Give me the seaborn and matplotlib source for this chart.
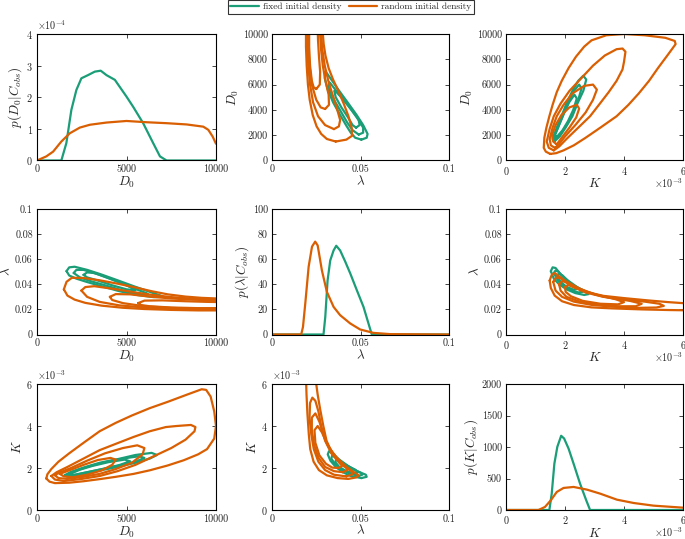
import numpy as np
import pandas as pd
import matplotlib
matplotlib.use("Agg")
import matplotlib.pyplot as plt
import seaborn as sns
from matplotlib.ticker import FuncFormatter, ScalarFormatter
from matplotlib.lines import Line2D

# ---- marginal densities ----
d0_fixed_x = [0, 1360, 1640, 1920, 2200, 2480, 2850, 3230, 3560, 3880, 4350, 5000, 5370, 5930, 6490, 6870, 7240, 10000]
d0_fixed_p = [0, 0, 0.55, 1.6, 2.23, 2.6, 2.7, 2.81, 2.84, 2.7, 2.55, 2.02, 1.7, 1.18, 0.55, 0.13, 0, 0]  # x1e-4
d0_rand_x = [0, 520, 900, 1360, 1830, 2390, 2950, 3880, 5000, 6120, 7240, 8360, 9290, 9570, 9810, 10000]
d0_rand_p = [0, 0.13, 0.28, 0.6, 0.86, 1.04, 1.13, 1.2, 1.25, 1.21, 1.18, 1.14, 1.07, 0.97, 0.76, 0.53]  # x1e-4

lam_fixed_x = [0, 0.0291, 0.0301, 0.0314, 0.0329, 0.0348, 0.0363, 0.0385, 0.0414, 0.0442, 0.0479, 0.0517, 0.0551, 0.0564, 0.1]
lam_fixed_p = [0, 0, 14, 43, 59, 67, 70.7, 67, 58, 48.7, 35.4, 22, 6, 0, 0]
lam_rand_x = [0, 0.0165, 0.0175, 0.0188, 0.0207, 0.0226, 0.0244, 0.0258, 0.0282, 0.031, 0.0348, 0.0385, 0.0442, 0.0498, 0.0573, 0.0667, 0.1]
lam_rand_p = [0, 0, 6, 24.7, 54, 70, 74, 71, 51, 34, 22, 15.4, 8.8, 4, 1.3, 0.3, 0]

k_fixed_x = [0, 1.47, 1.55, 1.64, 1.74, 1.87, 1.97, 2.12, 2.29, 2.51, 2.72, 2.85, 6]  # x1e-3
k_fixed_p = [0, 0, 260, 737, 1003, 1178, 1135, 976, 737, 419, 154, 0, 0]
k_rand_x = [0, 1.1, 1.32, 1.52, 1.72, 1.95, 2.29, 2.74, 3.19, 3.76, 4.33, 5.0, 6.0]  # x1e-3
k_rand_p = [0, 0, 48, 154, 286, 350, 366, 324, 260, 164, 111, 69, 37]

# ---- joint density contours (closed loops) ----
# (D0, lambda)
d0_lam_fixed = [
    [(1650, 0.0505), (1800, 0.0535), (2100, 0.0540), (2800, 0.0515), (3600, 0.0478), (4500, 0.0432), (5400, 0.0385),
     (6200, 0.0345), (6900, 0.0310), (7000, 0.0300), (6500, 0.0298), (5600, 0.0315), (4600, 0.0345), (3600, 0.0385),
     (2800, 0.0418), (2200, 0.0445), (1800, 0.0470), (1650, 0.0505)],
    [(2050, 0.0490), (2200, 0.0515), (2600, 0.0515), (3400, 0.0480), (4300, 0.0432), (5200, 0.0380), (6100, 0.0330),
     (6200, 0.0322), (5700, 0.0322), (4800, 0.0350), (3800, 0.0392), (3000, 0.0425), (2400, 0.0455), (2050, 0.0490)],
    [(2600, 0.0475), (2800, 0.0495), (3200, 0.0490), (4000, 0.0450), (4800, 0.0405), (5400, 0.0365), (5500, 0.0352),
     (5000, 0.0360), (4200, 0.0392), (3400, 0.0430), (2800, 0.0455), (2600, 0.0475)],
]
d0_lam_rand = [
    [(1500, 0.0360), (1650, 0.0420), (1950, 0.0452), (2600, 0.0450), (3500, 0.0432), (4500, 0.0405), (5400, 0.0378),
     (6400, 0.0345), (7300, 0.0320), (8300, 0.0302), (9200, 0.0292), (10400, 0.0285), (10400, 0.0192), (9000, 0.0192),
     (7500, 0.0196), (6000, 0.0203), (4800, 0.0213), (3600, 0.0230), (2700, 0.0252), (2100, 0.0278), (1700, 0.0310),
     (1500, 0.0360)],
    [(2480, 0.0350), (2700, 0.0378), (3200, 0.0385), (4200, 0.0365), (5200, 0.0342), (6300, 0.0318), (7500, 0.0298),
     (8700, 0.0285), (10400, 0.0275), (10400, 0.0200), (9000, 0.0200), (7500, 0.0205), (6000, 0.0215), (4600, 0.0232),
     (3500, 0.0260), (2800, 0.0300), (2480, 0.0350)],
    [(4070, 0.0300), (4400, 0.0322), (5200, 0.0320), (6300, 0.0302), (7500, 0.0287), (8800, 0.0277), (10400, 0.0270),
     (10400, 0.0205), (9000, 0.0205), (7500, 0.0212), (6000, 0.0225), (4800, 0.0250), (4200, 0.0275), (4070, 0.0300)],
    [(5650, 0.0250), (6000, 0.0270), (7000, 0.0272), (8300, 0.0265), (9500, 0.0260), (10400, 0.0258), (10400, 0.0210),
     (9000, 0.0210), (7500, 0.0215), (6300, 0.0225), (5800, 0.0235), (5650, 0.0250)],
]

# (K x1e-3, lambda)
k_lam_fixed = [
    [(1.52, 0.0505), (1.58, 0.0535), (1.68, 0.0530), (1.85, 0.0480), (2.1, 0.0430), (2.4, 0.0380), (2.7, 0.0340),
     (2.8, 0.0322), (2.65, 0.0315), (2.35, 0.0330), (2.05, 0.0360), (1.8, 0.0400), (1.62, 0.0445), (1.52, 0.0505)],
    [(1.62, 0.0490), (1.68, 0.0510), (1.78, 0.0500), (1.95, 0.0455), (2.2, 0.0405), (2.5, 0.0360), (2.6, 0.0340),
     (2.45, 0.0335), (2.2, 0.0355), (1.95, 0.0390), (1.75, 0.0435), (1.62, 0.0490)],
    [(1.72, 0.0470), (1.80, 0.0485), (1.92, 0.0470), (2.1, 0.0425), (2.3, 0.0385), (2.4, 0.0362), (2.28, 0.0358),
     (2.05, 0.0380), (1.85, 0.0420), (1.72, 0.0470)],
]
k_lam_rand = [
    [(1.48, 0.0430), (1.55, 0.0475), (1.65, 0.0490), (1.85, 0.0455), (2.2, 0.0395), (2.7, 0.0340), (3.3, 0.0308),
     (4.0, 0.0290), (4.8, 0.0272), (5.5, 0.0258), (6.3, 0.0245), (6.3, 0.0192), (5.5, 0.0195), (4.6, 0.0200),
     (3.6, 0.0208), (2.9, 0.0216), (2.3, 0.0235), (1.9, 0.0265), (1.65, 0.0310), (1.52, 0.0370), (1.48, 0.0430)],
    [(1.60, 0.0420), (1.70, 0.0455), (1.85, 0.0448), (2.2, 0.0385), (2.7, 0.0335), (3.3, 0.0300), (4.0, 0.0278),
     (4.7, 0.0262), (5.2, 0.0245), (5.35, 0.0228), (5.1, 0.0215), (4.4, 0.0212), (3.6, 0.0222), (2.9, 0.0236),
     (2.3, 0.0262), (1.9, 0.0300), (1.68, 0.0350), (1.60, 0.0420)],
    [(1.80, 0.0400), (1.90, 0.0425), (2.1, 0.0415), (2.5, 0.0365), (3.0, 0.0320), (3.6, 0.0290), (4.2, 0.0268),
     (4.6, 0.0245), (4.4, 0.0225), (3.8, 0.0225), (3.1, 0.0238), (2.5, 0.0262), (2.05, 0.0300), (1.85, 0.0350),
     (1.80, 0.0400)],
    [(2.00, 0.0375), (2.1, 0.0395), (2.3, 0.0385), (2.7, 0.0345), (3.2, 0.0308), (3.7, 0.0282), (4.0, 0.0258),
     (3.8, 0.0240), (3.2, 0.0245), (2.6, 0.0268), (2.2, 0.0305), (2.02, 0.0340), (2.00, 0.0375)],
]

# (D0, K x1e-3)
d0_k_fixed = [
    [(1550, 1.66), (1700, 1.58), (2600, 1.72), (3500, 1.88), (4500, 2.05), (5500, 2.25), (6300, 2.45), (6700, 2.62),
     (6400, 2.72), (5500, 2.62), (4500, 2.42), (3500, 2.25), (2600, 2.02), (1900, 1.82), (1550, 1.66)],
    [(1700, 1.68), (1850, 1.62), (2600, 1.76), (3500, 1.92), (4500, 2.10), (5500, 2.30), (6000, 2.48), (5700, 2.56),
     (4800, 2.45), (3800, 2.28), (2900, 2.08), (2200, 1.88), (1700, 1.68)],
    [(1850, 1.72), (2000, 1.66), (2800, 1.80), (3700, 1.96), (4600, 2.14), (5200, 2.32), (4900, 2.40), (4000, 2.28),
     (3100, 2.10), (2400, 1.92), (1850, 1.72)],
]
d0_k_rand = [
    [(520, 1.50), (700, 1.35), (1000, 1.28), (1800, 1.30), (2600, 1.37), (3500, 1.47), (4400, 1.58), (5400, 1.72),
     (6300, 1.89), (7300, 2.12), (8200, 2.37), (9000, 2.65), (9500, 2.90), (9900, 3.40), (10000, 4.00), (9900, 4.70),
     (9700, 5.40), (9450, 5.72), (9200, 5.75), (8400, 5.50), (7300, 5.15), (6300, 4.85), (5300, 4.50), (4400, 4.15),
     (3500, 3.75), (2600, 3.20), (1800, 2.70), (1200, 2.30), (800, 1.95), (580, 1.70), (520, 1.50)],
    [(800, 1.62), (1000, 1.45), (1500, 1.38), (2500, 1.48), (3500, 1.62), (4500, 1.85), (5500, 2.15), (6500, 2.55),
     (7500, 2.95), (8300, 3.35), (8800, 3.75), (8850, 3.95), (8600, 4.05), (7800, 4.00), (7200, 3.95), (6300, 3.75),
     (5400, 3.48), (4400, 3.15), (3500, 2.85), (2600, 2.45), (1700, 2.05), (1100, 1.80), (800, 1.62)],
    [(990, 1.66), (1200, 1.52), (1700, 1.48), (2600, 1.58), (3500, 1.72), (4400, 1.95), (5300, 2.25), (5900, 2.65),
     (6000, 2.95), (5600, 3.08), (4800, 2.95), (3800, 2.70), (2800, 2.35), (1900, 2.00), (1300, 1.80), (990, 1.66)],
    [(1270, 1.72), (1500, 1.60), (2000, 1.56), (2800, 1.68), (3600, 1.88), (4200, 2.15), (4400, 2.40), (4100, 2.48),
     (3400, 2.38), (2600, 2.15), (1900, 1.92), (1270, 1.72)],
]

K_UNIT = 1e-3
P_D0_UNIT = 1e-4

sns.set_style("ticks")
plt.rcParams["font.family"] = ["cmr10", "DejaVu Serif"]
plt.rcParams["mathtext.fontset"] = "cm"
plt.rcParams["axes.formatter.use_mathtext"] = True
plt.rcParams["axes.unicode_minus"] = True

pal = sns.color_palette("Dark2")
C_FIXED, C_RAND = pal[0], pal[1]
LW = 1.6
TICK_FS = 7.3
LABEL_FS = 9.5

fig = plt.figure(figsize=(6.85, 5.39), dpi=100)
W, H = 685.0, 539.0
col_px = [(37, 179), (272, 177), (506, 177)]
row_px = [(34, 126.5), (209, 125.5), (384, 126)]
axes = [[fig.add_axes([l / W, 1 - (t + h) / H, w / W, h / H]) for (l, w) in col_px] for (t, h) in row_px]

plain = FuncFormatter(lambda v, pos: "%g" % v)


def sci():
    f = ScalarFormatter(useMathText=True)
    f.set_powerlimits((0, 0))
    return f


D0 = dict(lim=(0, 10000), label=r"$D_0$")
LAM = dict(lim=(0, 0.1), label=r"$\lambda$")
KK = dict(lim=(0, 6e-3), label=r"$K$")


def style(ax, xs, ys, xticks, yticks, xsci=False, ysci=False, ylabel=None):
    ax.set_xticks(xticks)
    ax.set_yticks(yticks)
    ax.xaxis.set_major_formatter(sci() if xsci else plain)
    ax.yaxis.set_major_formatter(sci() if ysci else plain)
    ax.set_xlabel(xs["label"], fontsize=LABEL_FS, labelpad=0.5)
    ax.set_ylabel(ylabel if ylabel else ys["label"], fontsize=LABEL_FS, labelpad=1.5)
    ax.tick_params(direction="in", top=True, right=True, length=3, width=0.6, labelsize=TICK_FS)
    ax.tick_params(axis="x", pad=3)
    ax.tick_params(axis="y", pad=3)
    for s in ax.spines.values():
        s.set_linewidth(0.8)
        s.set_color("black")
    ax.yaxis.get_offset_text().set_fontsize(TICK_FS)
    if xsci:
        # MATLAB puts the x exponent beside the axis label, flush right
        ax.xaxis.get_offset_text().set_visible(False)
        h_px = ax.get_position().height * H
        ax.text(1.0, -22.5 / h_px, r"$\times10^{-3}$", transform=ax.transAxes,
                ha="right", va="center", fontsize=TICK_FS)


def draw_loops(ax, loops, color, xs=1.0, ys=1.0, swap=False):
    for loop in loops:
        a = np.array(loop, dtype=float)
        x, y = a[:, 0] * xs, a[:, 1] * ys
        if swap:
            x, y = y, x
        sns.lineplot(x=x, y=y, sort=False, estimator=None, color=color, lw=LW, ax=ax, legend=False)


def draw_curve(ax, x, y, color):
    sns.lineplot(x=x, y=y, sort=False, estimator=None, color=color, lw=LW, ax=ax, legend=False)


D0_T = [0, 5000, 10000]
LAM_T = [0, 0.05, 0.1]
K_T = [0, 2e-3, 4e-3, 6e-3]

# diagonal: marginals
ax = axes[0][0]
draw_curve(ax, d0_fixed_x, np.array(d0_fixed_p) * P_D0_UNIT, C_FIXED)
draw_curve(ax, d0_rand_x, np.array(d0_rand_p) * P_D0_UNIT, C_RAND)
style(ax, D0, D0, D0_T, [0, 1e-4, 2e-4, 3e-4, 4e-4], ysci=True, ylabel=r"$p(D_0|C_{obs})$")
ax.set_xlim(0, 10000)
ax.set_ylim(0, 4e-4)

ax = axes[1][1]
draw_curve(ax, lam_fixed_x, lam_fixed_p, C_FIXED)
draw_curve(ax, lam_rand_x, lam_rand_p, C_RAND)
style(ax, LAM, LAM, LAM_T, [0, 20, 40, 60, 80, 100], ylabel=r"$p(\lambda|C_{obs})$")
ax.set_xlim(0, 0.1)
ax.set_ylim(0, 100)

ax = axes[2][2]
draw_curve(ax, np.array(k_fixed_x) * K_UNIT, k_fixed_p, C_FIXED)
draw_curve(ax, np.array(k_rand_x) * K_UNIT, k_rand_p, C_RAND)
style(ax, KK, KK, K_T, [0, 500, 1000, 1500, 2000], xsci=True, ylabel=r"$p(K|C_{obs})$")
ax.set_xlim(0, 6e-3)
ax.set_ylim(0, 2000)

# joint panels: (row var on y, column var on x)
pairs = [
    (0, 1, d0_lam_fixed, d0_lam_rand, 1.0, 1.0, True),    # y=D0, x=lambda
    (1, 0, d0_lam_fixed, d0_lam_rand, 1.0, 1.0, False),   # y=lambda, x=D0
    (0, 2, d0_k_fixed, d0_k_rand, 1.0, K_UNIT, True),     # y=D0, x=K
    (2, 0, d0_k_fixed, d0_k_rand, 1.0, K_UNIT, False),    # y=K, x=D0
    (1, 2, k_lam_fixed, k_lam_rand, K_UNIT, 1.0, False),  # y=lambda, x=K
    (2, 1, k_lam_fixed, k_lam_rand, K_UNIT, 1.0, True),   # y=K, x=lambda
]
var = {0: (D0, D0_T, [0, 2000, 4000, 6000, 8000, 10000], False),
       1: (LAM, LAM_T, [0, 0.02, 0.04, 0.06, 0.08, 0.1], False),
       2: (KK, K_T, K_T, True)}

for r, c, fixed, rand, xs, ys, swap in pairs:
    ax = axes[r][c]
    draw_loops(ax, fixed, C_FIXED, xs, ys, swap)
    draw_loops(ax, rand, C_RAND, xs, ys, swap)
    xv, xt, _, xsc = var[c]
    yv, _, yt, ysc = var[r]
    style(ax, xv, yv, xt, yt, xsci=xsc, ysci=ysc)
    ax.set_xlim(*xv["lim"])
    ax.set_ylim(*yv["lim"])

handles = [Line2D([], [], color=C_FIXED, lw=LW), Line2D([], [], color=C_RAND, lw=LW)]
leg = fig.legend(handles, ["fixed initial density", "random initial density"], loc="upper center",
                 bbox_to_anchor=(0.512, 1.0), ncol=2, fontsize=6.8, frameon=True, fancybox=False,
                 edgecolor="black", borderpad=0.3, handlelength=3.0, handletextpad=0.4,
                 columnspacing=0.8, borderaxespad=0)
leg.get_frame().set_linewidth(0.8)

fig.savefig("out.png", dpi=100, facecolor="white")
